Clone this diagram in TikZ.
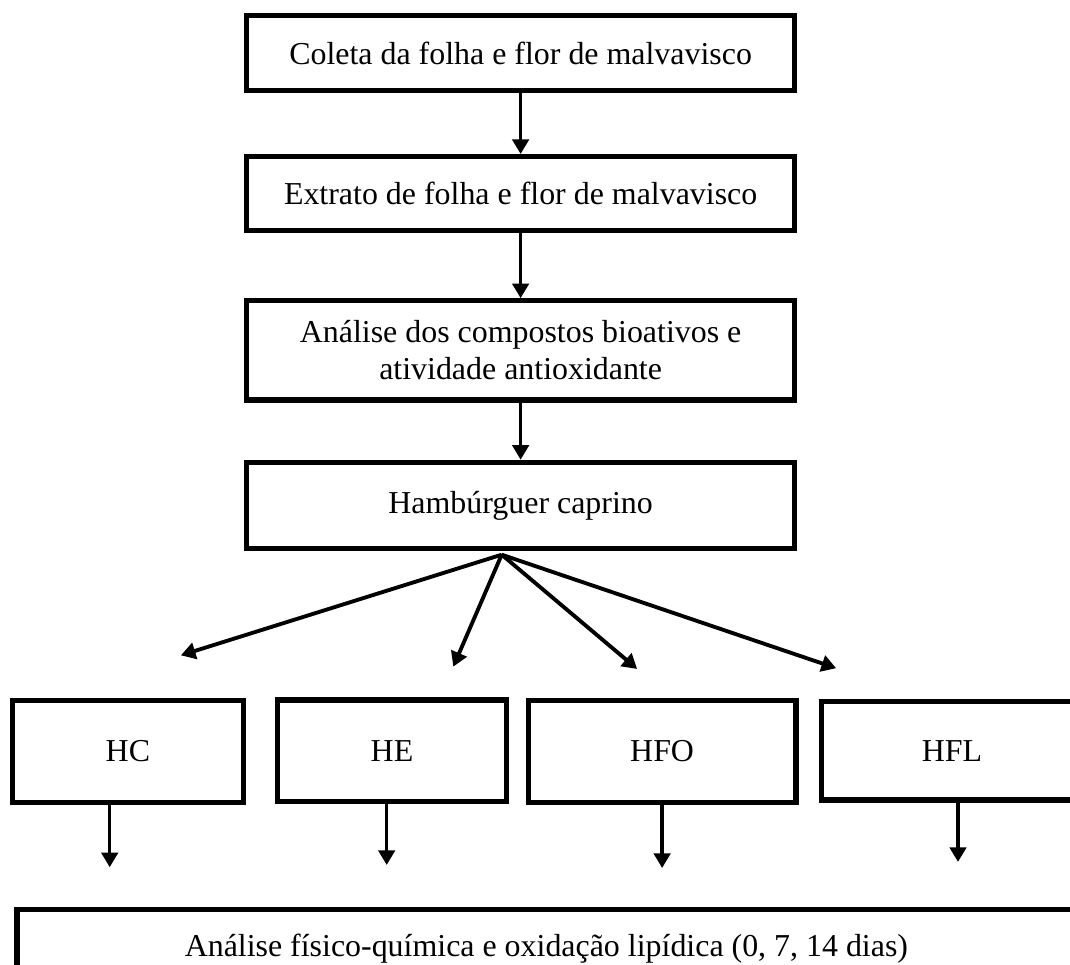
\documentclass[tikz,border=0pt]{standalone}
\usepackage{fontspec}
\setmainfont{Liberation Serif}
\usepackage{tikz}
\usetikzlibrary{arrows.meta, positioning, calc}
\tikzset{
  % Plain flow box
  flowbox/.style={
    rectangle, draw=black, line width=2pt,
    fill=white, align=center,
    font=\fontsize{12}{14}\selectfont,
    inner sep=2pt
  },
  % Arrows
  arr/.style={-{Triangle[length=5.5pt,width=6.2pt]}, line width=1.25pt, black},
  farr/.style={arr, line width=1.45pt},
}

\begin{document}
\begin{tikzpicture}

  %% Page frame
  \useasboundingbox (0,0) rectangle (14.14,-12.75);
  \clip (0,0) rectangle (14.14,-12.75);

  %% Main chain
  \node[flowbox, minimum width=7.24cm, minimum height=0.99cm] (coleta) at (6.88,-0.70) {Coleta da folha e flor de malvavisco};
  \node[flowbox, minimum width=7.24cm, minimum height=0.98cm] (extrato) at (6.88,-2.56) {Extrato de folha e flor de malvavisco};
  \node[flowbox, minimum width=7.24cm, minimum height=1.31cm] (analise) at (6.88,-4.63) {Análise dos compostos bioativos e\\atividade antioxidante};
  \node[flowbox, minimum width=7.24cm, minimum height=1.14cm] (hamb) at (6.88,-6.68) {Hambúrguer caprino};

  \draw[arr] (coleta) -- (extrato);
  \draw[arr] (extrato) -- (analise);
  \draw[arr] (analise) -- (hamb);

  %% Fan out
  \coordinate (hub) at (6.63,-7.33);
  \coordinate (tHC) at (2.39,-8.66);
  \coordinate (tHE) at (5.99,-8.81);
  \coordinate (tHFO) at (8.42,-8.84);
  \coordinate (tHFL) at (11.05,-8.83);
  \foreach \t in {tHC,tHE,tHFO,tHFL}
    \draw[farr] (hub) -- (\t);

  %% Treatments
  \node[flowbox, minimum width=3.05cm, minimum height=1.35cm] (hc) at (1.69,-9.93) {HC};
  \node[flowbox, minimum width=3.03cm, minimum height=1.34cm] (he) at (5.18,-9.92) {HE};
  \node[flowbox, minimum width=3.54cm, minimum height=1.35cm] (hfo) at (8.75,-9.93) {HFO};
  \node[flowbox, minimum width=3.45cm, minimum height=1.30cm] (hfl) at (12.58,-9.92) {HFL};

  \coordinate (dHC) at (1.45,-11.46);
  \coordinate (dHE) at (5.11,-11.43);
  \coordinate (dHFO) at (8.75,-11.47);
  \coordinate (dHFL) at (12.66,-11.39);
  \foreach \b/\d in {hc/dHC, he/dHE, hfo/dHFO, hfl/dHFL}
    \draw[arr] (\d |- \b.south) -- (\d);

  %% Final analysis
  \node[flowbox, minimum width=13.99cm, minimum height=1.03cm] (fisico) at (7.22,-12.53) {Análise físico-química e oxidação lipídica (0, 7, 14 dias)};

\end{tikzpicture}
\end{document}
